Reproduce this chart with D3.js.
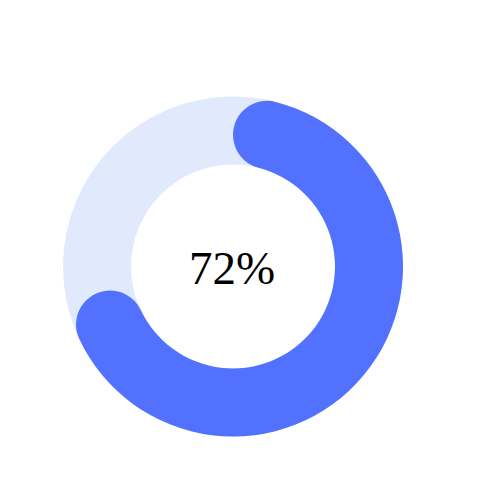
<!DOCTYPE html>
<html lang="en">
<head>
    <meta charset="UTF-8">
    <title>Progress Ring</title>
    <script src="https://d3js.org/d3.v7.min.js"></script>
    <style>
        body { margin: 0; background: white; }
        svg { display: block; }
        .label { font-family: "Liberation Serif", "Times New Roman", serif; font-size: 47px; text-anchor: middle; fill: black; }
    </style>
</head>
<body>
    <svg width="500" height="500"></svg>
    <script>
        // progress value, out of 1
        const value = 0.72;
        const labels = ["72%"];

        const width = 500, height = 500;
        const cx = 233, cy = 266.5;
        const outerR = 170, innerR = 102;

        const svg = d3.select("svg");
        const g = svg.append("g").attr("transform", `translate(${cx},${cy})`);

        const angle = d3.scaleLinear().domain([0, 1]).range([0, 2 * Math.PI]);

        const track = d3.arc().innerRadius(innerR).outerRadius(outerR)
            .startAngle(0).endAngle(2 * Math.PI);

        const bar = d3.arc().innerRadius(innerR).outerRadius(outerR)
            .cornerRadius((outerR - innerR) / 2)
            .startAngle(0);

        g.append("path").attr("d", track()).attr("fill", "#e1e9fd");

        g.append("path")
            .datum({ endAngle: angle(value) })
            .attr("d", bar)
            .attr("fill", "#5271ff");

        g.append("text").attr("class", "label")
            .attr("x", -1)
            .attr("y", 17)
            .text(labels[0]);
    </script>
</body>
</html>
